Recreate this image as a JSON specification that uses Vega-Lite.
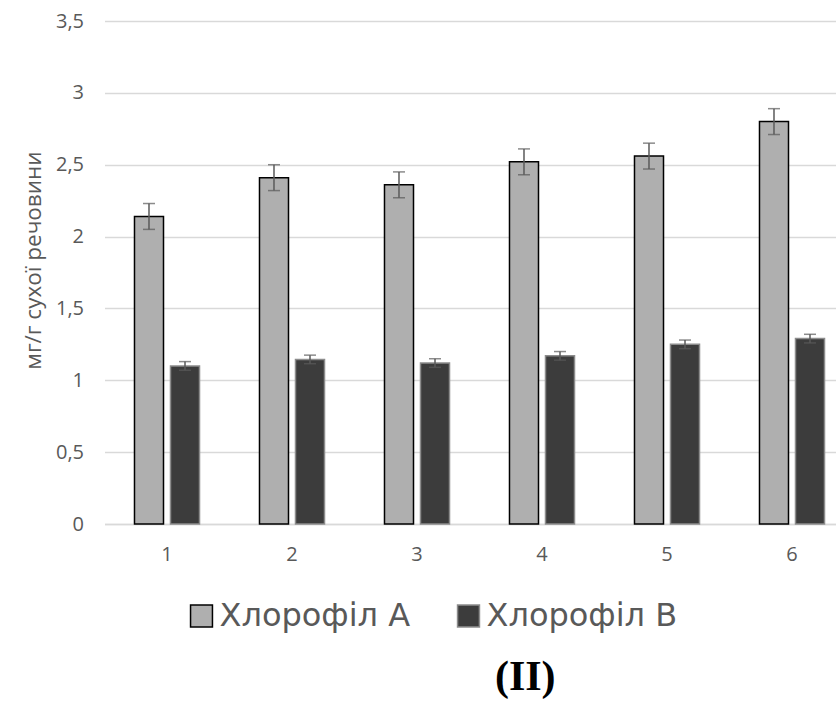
{
  "$schema": "https://vega.github.io/schema/vega-lite/v6.json",
  "autosize": {"type": "none"},
  "padding": {"left": 104.5, "top": 21, "right": 0, "bottom": 179},
  "width": 731.5,
  "height": 503,
  "background": "white",
  "config": {
    "font": "Open Sans",
    "view": {"stroke": null},
    "axis": {"labelColor": "#595959", "titleColor": "#595959", "gridColor": "#d9d9d9", "domainColor": "#d9d9d9"},
    "axisY": {
      "title": "мг/г сухої речовини",
      "titleFontSize": 22.5, "titleFontWeight": "normal", "titlePadding": 10, "titleY": 239,
      "labelFontSize": 20, "labelPadding": 21,
      "ticks": false, "domain": false, "gridWidth": 1.5
    }
  },
  "title": {
    "text": "(II)",
    "orient": "bottom",
    "anchor": "middle",
    "dx": 55,
    "offset": 25,
    "font": "Liberation Serif",
    "fontSize": 42,
    "fontWeight": "bold",
    "color": "black"
  },
  "data": {
    "values": [
      {"group": "1", "series": "Хлорофіл А", "value": 2.14, "lo": 2.05, "hi": 2.23},
      {"group": "2", "series": "Хлорофіл А", "value": 2.41, "lo": 2.32, "hi": 2.50},
      {"group": "3", "series": "Хлорофіл А", "value": 2.36, "lo": 2.27, "hi": 2.45},
      {"group": "4", "series": "Хлорофіл А", "value": 2.52, "lo": 2.43, "hi": 2.61},
      {"group": "5", "series": "Хлорофіл А", "value": 2.56, "lo": 2.47, "hi": 2.65},
      {"group": "6", "series": "Хлорофіл А", "value": 2.80, "lo": 2.71, "hi": 2.89},
      {"group": "1", "series": "Хлорофіл В", "value": 1.10, "lo": 1.07, "hi": 1.13},
      {"group": "2", "series": "Хлорофіл В", "value": 1.145, "lo": 1.115, "hi": 1.175},
      {"group": "3", "series": "Хлорофіл В", "value": 1.12, "lo": 1.09, "hi": 1.15},
      {"group": "4", "series": "Хлорофіл В", "value": 1.17, "lo": 1.14, "hi": 1.20},
      {"group": "5", "series": "Хлорофіл В", "value": 1.25, "lo": 1.22, "hi": 1.28},
      {"group": "6", "series": "Хлорофіл В", "value": 1.29, "lo": 1.26, "hi": 1.32}
    ]
  },
  "encoding": {
    "x": {
      "field": "group", "type": "nominal",
      "scale": {"paddingInner": 0, "paddingOuter": 0, "range": [0, 750]},
      "axis": {"title": null, "labelAngle": 0, "ticks": false, "labelFontSize": 20, "labelPadding": 20, "domain": true, "domainWidth": 1.5}
    },
    "xOffset": {
      "field": "series", "type": "nominal",
      "scale": {"paddingInner": 0.194, "paddingOuter": 0.833}
    }
  },
  "layer": [
    {
      "mark": {"type": "bar", "strokeWidth": 1.5},
      "encoding": {
        "y": {
          "field": "value", "type": "quantitative",
          "scale": {"domain": [0, 3.5], "nice": false},
          "axis": {
            "title": "мг/г сухої речовини",
            "values": [0, 0.5, 1, 1.5, 2, 2.5, 3, 3.5],
            "labelExpr": "replace(format(datum.value, '~g'), '.', ',')"
          }
        },
        "fill": {
          "field": "series", "type": "nominal",
          "scale": {"range": ["#afafaf", "#3c3c3c"]},
          "legend": {
            "title": null,
            "orient": "none",
            "legendX": 81,
            "legendY": 579,
            "direction": "horizontal",
            "padding": 0,
            "symbolType": "square",
            "symbolSize": 480,
            "symbolStrokeColor": "black",
            "symbolStrokeWidth": 1.5,
            "labelFont": "DejaVu Sans",
            "labelFontSize": 32,
            "labelColor": "#595959",
            "labelOffset": 2,
            "columnPadding": 42,
            "labelLimit": 400
          }
        },
        "stroke": {
          "field": "series", "type": "nominal",
          "scale": {"range": ["#000000", "#8c8c8c"]},
          "legend": null
        }
      }
    },
    {
      "mark": {"type": "rule", "color": "#5a5a5a", "strokeWidth": 1.5},
      "encoding": {
        "y": {
          "field": "lo", "type": "quantitative",
          "axis": {
            "title": "мг/г сухої речовини",
            "values": [0, 0.5, 1, 1.5, 2, 2.5, 3, 3.5],
            "labelExpr": "replace(format(datum.value, '~g'), '.', ',')"
          }
        },
        "y2": {"field": "hi"}
      }
    },
    {
      "mark": {"type": "tick", "color": "#5a5a5a", "thickness": 1.5, "size": 12, "orient": "horizontal"},
      "encoding": {
        "y": {
          "field": "lo", "type": "quantitative",
          "axis": {
            "title": "мг/г сухої речовини",
            "values": [0, 0.5, 1, 1.5, 2, 2.5, 3, 3.5],
            "labelExpr": "replace(format(datum.value, '~g'), '.', ',')"
          }
        }
      }
    },
    {
      "mark": {"type": "tick", "color": "#5a5a5a", "thickness": 1.5, "size": 12, "orient": "horizontal"},
      "encoding": {
        "y": {
          "field": "hi", "type": "quantitative",
          "axis": {
            "title": "мг/г сухої речовини",
            "values": [0, 0.5, 1, 1.5, 2, 2.5, 3, 3.5],
            "labelExpr": "replace(format(datum.value, '~g'), '.', ',')"
          }
        }
      }
    }
  ]
}
